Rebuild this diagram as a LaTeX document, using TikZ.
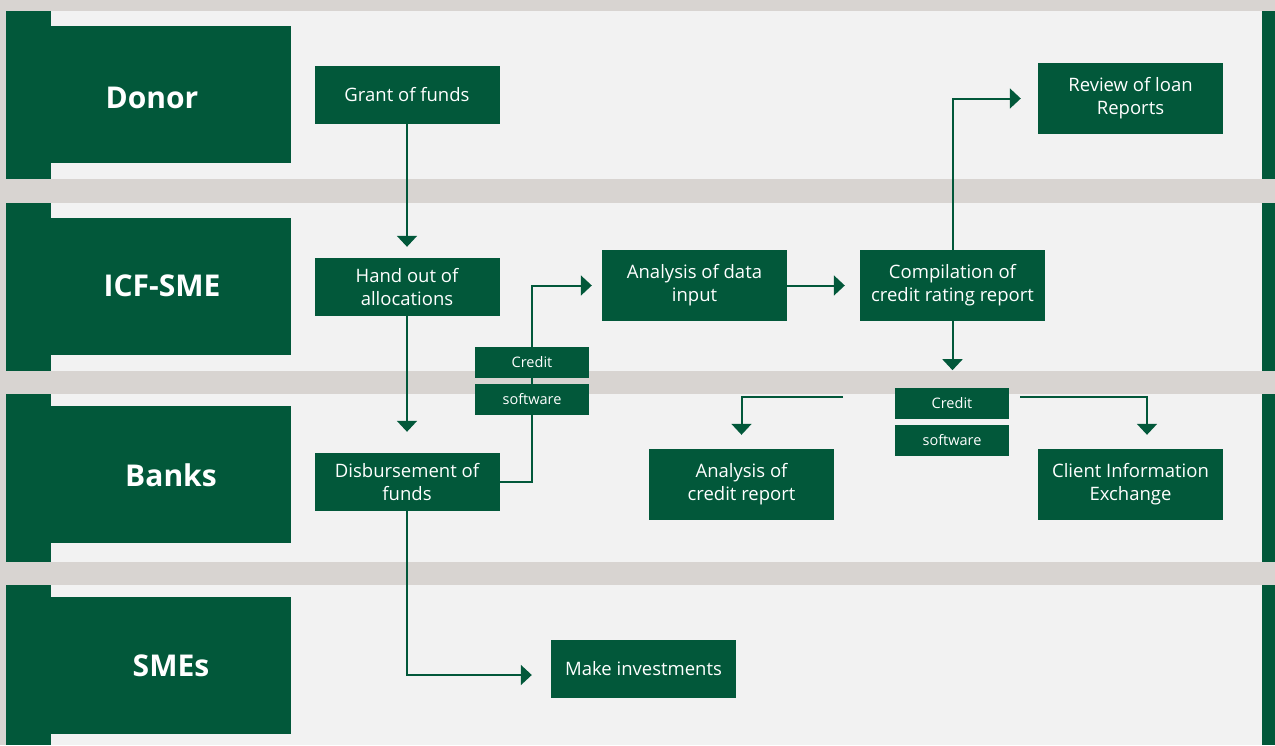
\documentclass[tikz,border=0pt]{standalone}
\usepackage{fontspec}
\setmainfont{Open Sans}
\usetikzlibrary{arrows.meta}

\definecolor{icfgreen}{HTML}{02583A}
\definecolor{bandgray}{HTML}{D8D4D1}
\definecolor{lanegray}{HTML}{F2F2F2}

\pgfdeclarelayer{lanes}
\pgfdeclarelayer{links}
\pgfsetlayers{lanes,links,main}

\tikzset{
  task/.style={fill=icfgreen,text=white,align=center,inner sep=0pt,
    font=\fontsize{18.5}{23}\selectfont,minimum width=185pt,minimum height=58pt},
  tall/.style={minimum height=71pt},
  tag/.style={fill=icfgreen,text=white,inner sep=0pt,
    font=\fontsize{14.5}{16}\selectfont,minimum width=114pt,minimum height=31pt},
  lanename/.style={text=white,font=\bfseries\fontsize{30}{34}\selectfont},
  flow/.style={icfgreen,line width=2pt,-{Triangle[width=20pt,length=11pt]}},
}

\begin{document}
\begin{tikzpicture}[x=1pt,y=-1pt]
\useasboundingbox (0,0) rectangle (1275,745);

\begin{pgfonlayer}{lanes}
\fill[bandgray] (0,0) rectangle (1275,745);
\foreach \top/\bot/\btop/\bbot in {11/179/26/163,203/371/218/355,394/562/406/543,585/745/597/734} {
  \fill[lanegray] (6,\top) rectangle (1262,\bot);
  \fill[icfgreen] (6,\top) rectangle (51,\bot);
  \fill[icfgreen] (1262,\top) rectangle (1275,\bot);
  \fill[icfgreen] (51,\btop) rectangle (291,\bbot);
}
\end{pgfonlayer}

\node[lanename] (donor) at (152,98) {Donor};
\node[lanename] (icf) at (162,286) {ICF-SME};
\node[lanename] (banks) at (171,475) {Banks};
\node[lanename] (smes) at (171,666) {SMEs};

\node[task] (grant) at (407,95) {Grant of funds};
\node[task] (handout) at (407,287) {Hand out of\\allocations};
\node[task] (disb) at (407,482) {Disbursement of\\funds};
\node[task] (invest) at (643.5,669) {Make investments};
\node[task,tall] (datain) at (694.5,285.5) {Analysis of data\\input};
\node[task,tall] (comp) at (952.5,285.5) {Compilation of\\credit rating report};
\node[task,tall] (review) at (1130.5,98.5) {Review of loan\\Reports};
\node[task,tall] (crrep) at (741.5,484.5) {Analysis of\\credit report};
\node[task,tall] (client) at (1130.5,484.5) {Client Information\\Exchange};

\node[tag] (credA) at (532,362.5) {Credit};
\node[tag] (softA) at (532,399.5) {software};
\node[tag] (credB) at (952,403.5) {Credit};
\node[tag] (softB) at (952,440.5) {software};

\coordinate (splitL) at (843,397);
\coordinate (splitR) at (1020,397);

\begin{pgfonlayer}{links}
\draw[flow] (grant) -- ([yshift=11pt]handout.north);
\draw[flow] (handout) -- ([yshift=21pt]disb.north);
\draw[flow] (disb.east) -| (credA.center) |- ([xshift=-10pt]datain.west);
\draw[flow] (datain) -- ([xshift=-15pt]comp.west);
\draw[flow] (comp.north) |- ([xshift=-17pt]review.west);
\draw[flow] (comp.south) -- ++(0,49);
\draw[flow] (splitL) -| ([yshift=14pt]crrep.north);
\draw[flow] (splitR) -| ([xshift=16.5pt,yshift=14pt]client.north);
\draw[flow] (disb.south) |- ([xshift=-19pt,yshift=-6pt]invest.west);
\end{pgfonlayer}
\end{tikzpicture}
\end{document}
